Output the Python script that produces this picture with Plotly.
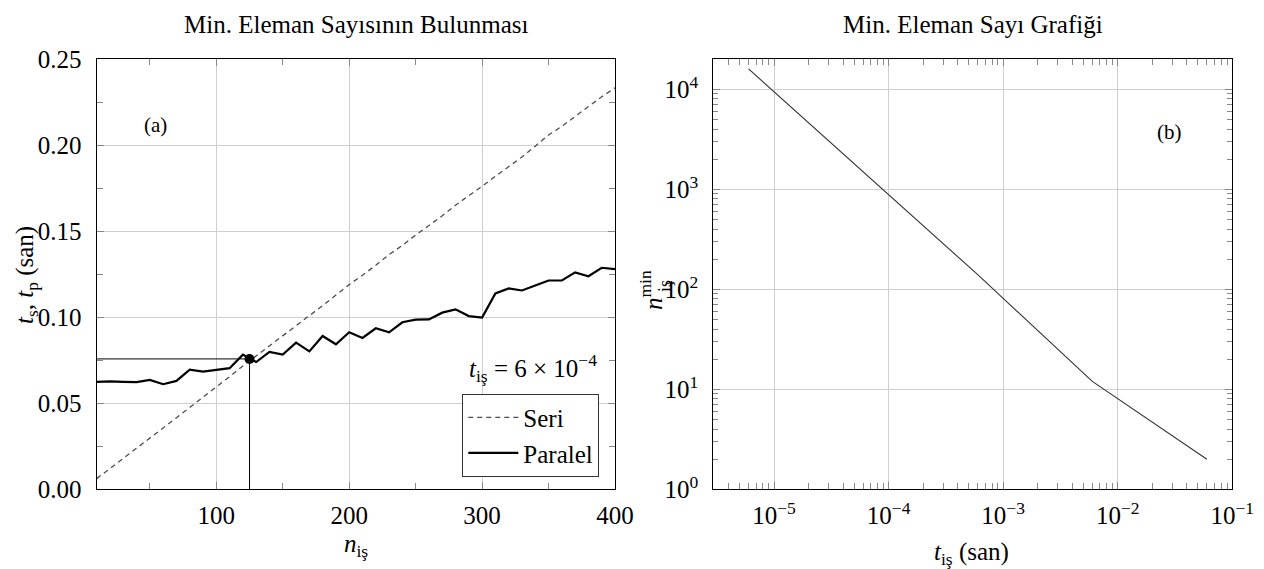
import plotly.graph_objects as go

# ---------------- data ----------------
n_is = [10, 20, 30, 40, 50, 60, 70, 80, 90, 100,
        110, 120, 130, 140, 150, 160, 170, 180, 190, 200,
        210, 220, 230, 240, 250, 260, 270, 280, 290, 300,
        310, 320, 330, 340, 350, 360, 370, 380, 390, 400]

seri = [0.0062, 0.0122, 0.0180, 0.0240, 0.0298, 0.0357, 0.0416, 0.0475, 0.0537, 0.0597,
        0.0655, 0.0717, 0.0775, 0.0835, 0.0893, 0.0952, 0.1010, 0.1068, 0.1129, 0.1190,
        0.1245, 0.1302, 0.1365, 0.1418, 0.1478, 0.1532, 0.1590, 0.1652, 0.1705, 0.1762,
        0.1820, 0.1875, 0.1932, 0.1995, 0.2060, 0.2110, 0.2165, 0.2225, 0.2282, 0.2334]

paralel = [0.0625, 0.0628, 0.0625, 0.0623, 0.0636, 0.0611, 0.0630, 0.0696, 0.0684, 0.0692,
           0.0704, 0.0783, 0.0740, 0.0799, 0.0783, 0.0853, 0.0802, 0.0891, 0.0843, 0.0913,
           0.0880, 0.0936, 0.0913, 0.0971, 0.0986, 0.0988, 0.1027, 0.1046, 0.1007, 0.0998,
           0.1139, 0.1168, 0.1156, 0.1185, 0.1214, 0.1214, 0.1261, 0.1239, 0.1288, 0.1280]

cross_n = [125]
cross_t = [0.0758]

t_is = [6e-6, 6e-5, 6e-4, 6e-3, 6e-2]
n_min = [16000, 1500, 140, 12, 2]

x_ticks_a = [100, 200, 300, 400]
y_ticks_a = [0.00, 0.05, 0.10, 0.15, 0.20, 0.25]
y_ticklabels_a = ["0.00", "0.05", "0.10", "0.15", "0.20", "0.25"]
x_ticks_b = [1e-5, 1e-4, 1e-3, 1e-2, 1e-1]
x_ticklabels_b = ["10<sup>−5</sup>", "10<sup>−4</sup>", "10<sup>−3</sup>", "10<sup>−2</sup>", "10<sup>−1</sup>"]
y_ticks_b = [1, 10, 100, 1000, 10000]
y_ticklabels_b = ["10<sup>0</sup>", "10<sup>1</sup>", "10<sup>2</sup>", "10<sup>3</sup>", "10<sup>4</sup>"]

# ---------------- layout helpers ----------------
W, H = 1264, 569
FONT = "Liberation Serif"
X_RANGE_A = [10, 400]
Y_RANGE_A = [0, 0.25]


def px(p):
    return p / W


def py(p):
    return 1 - p / H


fig = go.Figure()

fig.add_trace(go.Scatter(x=n_is, y=seri, mode="lines", name="Seri",
                         line=dict(color="#4d4d4d", width=1.3, dash="5px,4px"),
                         xaxis="x", yaxis="y"))
fig.add_trace(go.Scatter(x=n_is, y=paralel, mode="lines", name="Paralel",
                         line=dict(color="black", width=2.2),
                         xaxis="x", yaxis="y"))
# guide lines to the crossing point
fig.add_trace(go.Scatter(x=[X_RANGE_A[0], cross_n[0], cross_n[0]],
                         y=[cross_t[0], cross_t[0], Y_RANGE_A[0]],
                         mode="lines", showlegend=False,
                         line=dict(color="black", width=1),
                         xaxis="x", yaxis="y"))
fig.add_trace(go.Scatter(x=cross_n, y=cross_t, mode="markers", showlegend=False,
                         marker=dict(color="black", size=10),
                         xaxis="x", yaxis="y"))

fig.add_trace(go.Scatter(x=t_is, y=n_min, mode="lines", showlegend=False,
                         line=dict(color="#333333", width=1.1),
                         xaxis="x2", yaxis="y2"))

minor_x_b = [m * 10 ** e for e in range(-6, -1) for m in range(2, 10) if m * 10 ** e >= 3e-6]
minor_y_b = [m * 10 ** e for e in range(0, 5) for m in range(2, 10) if m * 10 ** e < 19000]

axis_common = dict(showline=True, linecolor="black", linewidth=1.2, mirror="allticks",
                   ticks="inside", ticklen=7, tickcolor="#888888", tickwidth=1,
                   showgrid=True, gridcolor="#cfcfcf", gridwidth=1, zeroline=False,
                   automargin=False, tickfont=dict(family=FONT, size=25, color="black"))

dom_y = [py(489.3), py(59.3)]

fig.update_layout(
    width=W, height=H,
    margin=dict(l=0, r=0, t=0, b=0),
    paper_bgcolor="white", plot_bgcolor="white",
    font=dict(family=FONT, size=25, color="black"),
    xaxis=dict(domain=[px(96.7), px(615)], range=X_RANGE_A, anchor="y",
               tickmode="array", tickvals=x_ticks_a, ticklabelstandoff=4,
               minor=dict(tickmode="array", tickvals=[50, 150, 250, 350], ticks="inside",
                          ticklen=6, tickcolor="#888888", showgrid=False),
               **axis_common),
    yaxis=dict(domain=dom_y, range=Y_RANGE_A, anchor="x",
               tickmode="array", tickvals=y_ticks_a, ticktext=y_ticklabels_a, ticklabelstandoff=9,
               minor=dict(tickmode="array", tickvals=[0.025, 0.075, 0.125, 0.175, 0.225], ticks="inside",
                          ticklen=6, tickcolor="#888888", showgrid=False),
               **axis_common),
    xaxis2=dict(domain=[px(713.3), px(1232.3)], type="log", range=[-5.53, -1], anchor="y2",
                tickmode="array", tickvals=x_ticks_b, ticktext=x_ticklabels_b, ticklabelstandoff=4,
                minor=dict(tickmode="array", tickvals=minor_x_b, ticks="inside",
                           ticklen=6, tickcolor="#888888", showgrid=False),
                **axis_common),
    yaxis2=dict(domain=dom_y, type="log", range=[0, 4.3], anchor="x2",
                tickmode="array", tickvals=y_ticks_b, ticktext=y_ticklabels_b, ticklabelstandoff=9,
                minor=dict(tickmode="array", tickvals=minor_y_b, ticks="inside",
                           ticklen=5, tickcolor="#888888", showgrid=False),
                **axis_common),
    legend=dict(x=px(599.3), y=py(476.7), xanchor="right", yanchor="bottom",
                bgcolor="white", bordercolor="#333333", borderwidth=1,
                font=dict(family=FONT, size=25, color="black"),
                traceorder="normal", itemwidth=50, tracegroupgap=0),
    showlegend=True,
)

ann = []
ann.append(dict(text="Min. Eleman Sayısının Bulunması", x=px(356), y=py(24), xref="paper", yref="paper",
                showarrow=False, xanchor="center", yanchor="middle", font=dict(size=25)))
ann.append(dict(text="Min. Eleman Sayı Grafiği", x=px(973), y=py(24), xref="paper", yref="paper",
                showarrow=False, xanchor="center", yanchor="middle", font=dict(size=25)))
ann.append(dict(text="<i>n</i><sub>iş</sub>", x=px(356), y=py(545), xref="paper", yref="paper",
                showarrow=False, xanchor="center", yanchor="middle", font=dict(size=25)))
ann.append(dict(text="<i>t</i><sub>iş</sub> (san)", x=px(971), y=py(553), xref="paper", yref="paper",
                showarrow=False, xanchor="center", yanchor="middle", font=dict(size=25)))
ann.append(dict(text="<i>t</i><sub>s</sub>, <i>t</i><sub>p</sub> (san)", x=px(26), y=py(275),
                xref="paper", yref="paper", textangle=-90,
                showarrow=False, xanchor="center", yanchor="middle", font=dict(size=25)))
# stacked n^min_iş label
ann.append(dict(text="<i>n</i><sup>min</sup>", x=px(651), y=py(290),
                xref="paper", yref="paper", textangle=-90,
                showarrow=False, xanchor="center", yanchor="middle", font=dict(size=25)))
ann.append(dict(text="iş", x=px(665), y=py(286),
                xref="paper", yref="paper", textangle=-90,
                showarrow=False, xanchor="center", yanchor="middle", font=dict(size=18)))
ann.append(dict(text="(a)", x=54, y=0.212, xref="x", yref="y",
                showarrow=False, xanchor="center", yanchor="middle", font=dict(size=21)))
ann.append(dict(text="(b)", x=-1.55, y=3.57, xref="x2", yref="y2",
                showarrow=False, xanchor="center", yanchor="middle", font=dict(size=21)))
ann.append(dict(text="<i>t</i><sub>iş</sub> = 6 × 10<sup>−4</sup>", x=388, y=0.0705, xref="x", yref="y",
                showarrow=False, xanchor="right", yanchor="middle", font=dict(size=25)))
fig.update_layout(annotations=ann)

fig.write_html("out.html", include_plotlyjs=True, config={"displayModeBar": False},
               post_script="document.body.style.margin='0';document.body.style.overflow='hidden';")
